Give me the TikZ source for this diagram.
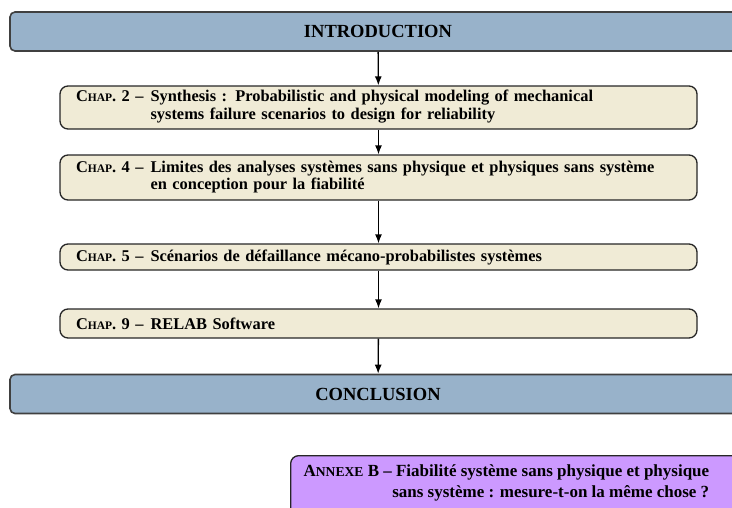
\documentclass[tikz,border=0pt]{standalone}
\usepackage{fontspec}
\setmainfont{Liberation Serif}
\usetikzlibrary{arrows.meta}

\newcommand{\chaplabel}[1]{C{\fontsize{11.5}{15}\selectfont HAP}. #1 --}
\newcommand{\annexlabel}[1]{A{\fontsize{13.6}{15}\selectfont NNEXE} #1 --}

\begin{document}
\begin{tikzpicture}[x=1pt,y=-1pt,line width=1.3pt,>={Latex[length=9pt,width=7pt]}]
  \tikzset{
    part/.style={draw=black!75,line width=1.6pt,fill={rgb,255:red,152;green,178;blue,202},
      rounded corners=5pt,minimum width=736pt,minimum height=39pt,
      font=\fontsize{18.5}{20}\selectfont\bfseries},
    chapbox/.style={draw=black!85,fill={rgb,255:red,240;green,235;blue,214},
      rounded corners=8pt,minimum width=637pt,text width=605pt,inner xsep=16pt,
      inner ysep=2pt,align=left,font=\fontsize{16.4}{17}\selectfont\bfseries},
    annexbox/.style={draw=black!85,fill={rgb,255:red,204;green,153;blue,255},
      rounded corners=8pt,minimum width=470pt,minimum height=80pt}
  }
  \useasboundingbox (0,0) rectangle (732,507);
  \clip (0,0) rectangle (732,507);
  %%
  \node[part] (intro) at (378,31.5) {INTRODUCTION};
  \node[chapbox,minimum height=43pt] (chap2) at (378.5,107.5) {%
    \begin{tabular}{@{}l@{\hspace{7pt}}l@{}}
      \chaplabel{2} & Synthesis : Probabilistic and physical modeling of mechanical\\[1pt]
      & systems failure scenarios to design for reliability
    \end{tabular}};
  \node[chapbox,minimum height=45pt] (chap4) at (378.5,177.5) {%
    \begin{tabular}{@{}l@{\hspace{7pt}}l@{}}
      \chaplabel{4} & Limites des analyses systèmes sans physique et physiques sans système\\
      & en conception pour la fiabilité
    \end{tabular}};
  \node[chapbox,minimum height=26pt] (chap5) at (378.5,257) {%
    \chaplabel{5}\hspace{7pt}Scénarios de défaillance mécano-probabilistes systèmes};
  \node[chapbox,minimum height=29pt] (chap9) at (378.5,323.5) {%
    \chaplabel{9}\hspace{7pt}RELAB Software};
  \node[part] (concl) at (378,394) {CONCLUSION};
  \node[annexbox,anchor=north west] (annexB) at (290,455) {};
  \node[anchor=north west,font=\fontsize{17}{21}\selectfont\bfseries,inner sep=0pt]
    (annextext) at (303,461) {%
    \begin{tabular}{@{}r@{}}
      \annexlabel{B} Fiabilité système sans physique et physique\\
      sans système : mesure-t-on la même chose ?
    \end{tabular}};
  %%
  \draw[->] (intro) -- (chap2);
  \draw[->] (chap2) -- (chap4);
  \draw[->] (chap4) -- (chap5);
  \draw[->] (chap5) -- (chap9);
  \draw[->] (chap9) -- (concl);
\end{tikzpicture}
\end{document}
